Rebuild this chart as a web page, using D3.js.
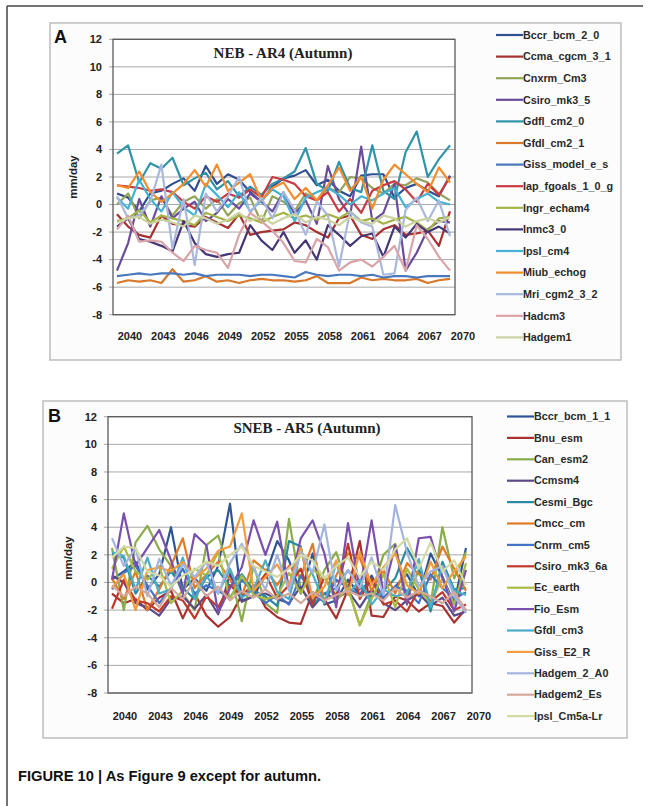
<!DOCTYPE html>
<html>
<head>
<meta charset="utf-8">
<script src="https://cdn.jsdelivr.net/npm/d3@7"></script>
<style>
  html, body { margin: 0; padding: 0; background: #fff; }
  svg { display: block; }
</style>
</head>
<body>
<svg id="fig" width="654" height="806"></svg>
<script>
// ---- categories ----
const years = d3.range(2040, 2071);
const yearLabels = [2040, 2043, 2046, 2049, 2052, 2055, 2058, 2061, 2064, 2067, 2070];
const yTicks = [-8, -6, -4, -2, 0, 2, 4, 6, 8, 10, 12];

// ---- Panel A: NEB - AR4 (Autumn), mm/day ----
const namesA = ["Bccr_bcm_2_0","Ccma_cgcm_3_1","Cnxrm_Cm3","Csiro_mk3_5","Gdfl_cm2_0","Gfdl_cm2_1",
  "Giss_model_e_s","Iap_fgoals_1_0_g","Ingr_echam4","Inmc3_0","Ipsl_cm4","Miub_echog",
  "Mri_cgm2_3_2","Hadcm3","Hadgem1"];
const colorsA = ["#2f4f8f","#a8302e","#93a45a","#6a4c9c","#2f93aa","#d8782c",
  "#4a78bd","#c93a44","#a3b445","#453676","#44b2d2","#f28c2c",
  "#a9b8dc","#d9a3a8","#cbd3a3"];
const bccr_bcm_2_0   = [0.8,0.5,-0.5,0.8,1.0,1.5,1.9,1.0,2.8,1.5,2.2,1.8,0.9,0.2,1.3,1.9,2.1,2.5,1.4,1.8,1.0,0.6,2.1,2.2,2.2,0.5,1.2,1.5,1.0,0.6,2.1];
const ccma_cgcm_3_1  = [-0.7,-1.6,-2.2,-2.4,-0.8,-1.4,-1.5,-1.6,-0.9,-1.3,-1.7,-0.7,-2.2,-2.0,-1.9,-1.8,-1.3,-1.5,-2.0,-2.4,-1.0,-0.8,-2.2,-2.5,-1.8,-1.5,-2.2,-2.1,-1.9,-3.0,-0.5];
const cnxrm_cm3      = [0.0,0.8,-1.0,0.3,0.5,-0.8,0.2,0.6,-0.3,0.4,-0.8,0.1,0.5,-1.3,0.6,0.2,-0.5,0.8,0.3,1.2,0.9,2.0,1.9,1.2,0.8,1.5,1.4,1.9,1.6,0.8,0.3];
const csiro_mk3_5    = [-4.8,-2.8,0.4,-1.6,0.6,-1.0,-0.3,0.2,-1.2,-0.6,0.4,-0.3,0.8,0.2,-0.5,0.9,-0.7,0.3,-1.4,2.8,0.4,-0.8,4.2,-1.2,-0.6,1.5,-4.8,-3.5,-1.8,-1.2,-1.3];
const gdfl_cm2_0     = [3.7,4.3,1.6,3.0,2.6,3.4,1.4,1.9,2.3,1.1,1.7,0.6,1.3,0.7,1.5,1.9,2.4,4.1,1.5,1.0,3.1,1.2,0.9,4.3,1.0,0.4,3.8,5.3,2.0,3.3,4.3];
const gfdl_cm2_1     = [-5.7,-5.5,-5.6,-5.5,-5.7,-4.7,-5.6,-5.5,-5.2,-5.6,-5.5,-5.7,-5.5,-5.4,-5.5,-5.5,-5.6,-5.5,-5.2,-5.7,-5.7,-5.7,-5.3,-5.5,-5.4,-5.5,-5.5,-5.4,-5.7,-5.5,-5.4];
const giss_model_e_s = [-5.2,-5.1,-5.0,-5.1,-5.0,-5.0,-5.1,-5.0,-5.2,-5.1,-5.1,-5.1,-5.2,-5.1,-5.1,-5.2,-5.3,-4.9,-5.1,-5.2,-5.1,-5.1,-5.2,-5.1,-5.3,-5.2,-5.2,-5.3,-5.2,-5.2,-5.2];
const iap_fgoals     = [1.4,1.3,1.2,1.0,1.1,0.9,0.2,-0.3,0.6,0.2,0.8,0.5,1.1,0.5,2.0,1.8,1.5,0.6,0.3,0.9,-0.5,0.4,-0.6,1.0,1.4,1.7,1.1,0.2,1.5,0.7,2.0];
const ingr_echam4    = [-1.2,-1.0,-0.4,-1.3,-0.8,-1.0,-1.2,-1.5,-0.6,-0.9,-1.2,-0.8,-1.0,-1.3,-0.9,-0.6,-1.0,-0.8,-1.1,-0.7,-1.0,-0.5,-1.2,-1.0,-1.4,-1.1,-0.9,-1.3,-1.9,-1.0,-0.9];
const inmc3_0        = [-1.6,-1.0,-2.5,-2.7,-3.0,-3.4,-1.2,-2.8,-3.6,-3.8,-3.6,-3.5,-1.5,-2.6,-3.3,-2.0,-3.5,-2.6,-4.0,-1.5,-2.2,-3.0,-2.3,-2.1,-3.8,-1.6,-2.4,-1.4,-2.0,-1.6,-2.1];
const ipsl_cm4       = [0.5,-0.3,1.8,0.4,-0.5,0.9,-0.2,-0.8,1.5,0.7,-0.2,0.9,-0.5,0.3,1.1,0.6,-1.2,0.5,0.9,1.2,0.7,0.0,0.6,0.3,0.8,1.2,-0.2,0.4,0.8,0.2,0.0];
const miub_echog     = [1.4,1.2,2.4,0.9,0.2,0.8,1.5,2.5,1.3,2.9,1.0,1.6,2.2,0.3,1.2,1.6,0.4,1.2,0.3,1.4,2.7,1.0,2.0,-0.3,1.8,2.9,2.2,1.5,0.9,2.7,1.6];
const mri_cgm2_3_2   = [0.6,-1.0,-0.8,0.2,2.9,-3.2,0.4,-4.4,0.8,-0.5,0.6,2.0,-0.6,0.5,-1.0,0.9,-0.4,-2.2,0.2,-0.8,-4.5,-0.5,-1.3,-1.6,-5.1,-5.0,-0.4,0.5,-1.2,0.3,-2.3];
const hadcm3         = [-1.8,-0.8,-2.7,-2.6,-2.7,-3.5,-4.1,-3.0,-3.3,-3.5,-4.6,-2.2,-0.6,-1.2,-1.9,-2.8,-4.1,-4.2,-2.5,-3.1,-4.8,-4.2,-4.0,-4.5,-3.8,-3.0,-4.8,-1.5,-2.5,-3.8,-4.8];
const hadgem1        = [-1.3,-1.0,-0.9,-1.4,-1.1,-1.3,-1.6,-0.8,-1.0,-1.4,-1.1,-0.6,-1.2,-0.8,-1.4,-1.0,-0.7,-1.3,-0.9,-1.1,-1.5,-0.9,-1.2,-1.4,-0.8,-1.0,-1.6,-1.2,-1.0,-1.3,-0.9];
const valuesA = [bccr_bcm_2_0, ccma_cgcm_3_1, cnxrm_cm3, csiro_mk3_5, gdfl_cm2_0, gfdl_cm2_1,
  giss_model_e_s, iap_fgoals, ingr_echam4, inmc3_0, ipsl_cm4, miub_echog,
  mri_cgm2_3_2, hadcm3, hadgem1];

// ---- Panel B: SNEB - AR5 (Autumn), mm/day ----
const namesB = ["Bccr_bcm_1_1","Bnu_esm","Can_esm2","Ccmsm4","Cesmi_Bgc","Cmcc_cm","Cnrm_cm5",
  "Csiro_mk3_6a","Ec_earth","Fio_Esm","Gfdl_cm3","Giss_E2_R","Hadgem_2_A0","Hadgem2_Es","Ipsl_Cm5a-Lr"];
const colorsB = ["#2f5597","#a8302e","#8aac4a","#5b4a85","#2a8aa0","#e07b28","#4472c4",
  "#c0392b","#a9ba45","#7a4fae","#4bacc6","#f39c3e","#a4b4e0","#d4a89a","#d3daa4"];
const bccr_bcm_1_1 = [0.2,0.8,1.5,-0.5,0.6,4.0,-0.5,0.3,-0.6,1.2,5.7,-1.3,-1.0,0.5,3.0,1.6,-0.8,2.1,-1.6,-1.3,0.2,-0.9,0.5,-1.2,-0.3,0.6,-1.0,2.1,0.4,-1.5,2.5];
const bnu_esm      = [-0.8,-1.5,-1.2,-2.0,-1.1,-0.6,-2.6,-0.8,-2.4,-3.2,-2.5,-0.9,-0.2,-1.8,-2.5,-2.9,-3.0,-0.7,-1.2,-2.6,-0.5,3.0,-2.4,-2.5,-1.0,-1.3,-2.1,-1.5,-1.7,-2.9,-1.9];
const can_esm2     = [2.5,-2.0,2.9,4.1,2.4,1.2,-0.8,-2.0,2.7,3.4,0.8,-2.8,1.2,-1.5,-2.2,4.6,-0.5,-1.4,0.9,2.2,-0.4,-3.1,-0.8,2.0,2.8,-1.2,0.9,-1.6,4.0,0.3,2.2];
const ccmsm4       = [0.5,0.0,-1.5,-1.8,-2.4,-1.2,-1.0,-1.9,-0.9,-2.3,0.6,-1.4,-1.0,-0.8,-1.2,-1.5,-0.3,-1.8,-0.8,-1.2,-0.6,-1.8,-0.5,-1.5,-2.0,-1.3,-0.8,-1.7,-1.1,-2.4,-2.1];
const cesmi_bgc    = [2.1,1.8,-0.8,0.5,-0.3,0.8,-0.4,-1.2,0.4,0.9,-0.3,0.6,-0.6,-1.0,-1.7,3.0,2.6,-1.6,-0.8,-0.4,0.9,-0.3,-1.0,-0.6,0.3,2.5,1.0,-2.1,1.5,-0.5,-0.4];
const cmcc_cm      = [0.3,-1.2,0.8,-2.0,-0.5,1.2,3.2,-0.4,0.6,1.5,0.2,-1.0,1.6,0.9,-0.2,1.2,0.4,2.8,-1.5,0.5,2.1,1.8,-0.6,0.9,-0.8,1.4,0.6,0.2,2.6,1.0,-0.6];
const cnrm_cm5     = [-0.5,0.7,1.2,-0.2,-1.5,-0.4,1.0,-0.8,-0.2,-0.6,-1.1,0.2,-0.7,-1.5,-0.9,-1.6,0.5,-0.9,-1.4,0.2,-0.4,-0.9,0.2,-1.1,-0.3,-0.6,-1.5,0.6,-0.4,-1.2,-0.7];
const csiro_mk3_6a = [-1.9,0.2,-1.3,-1.5,-2.1,-1.0,-1.3,-2.6,-1.0,-1.8,-0.2,-1.0,-0.5,0.6,-1.1,-0.2,1.0,-1.6,0.4,-1.0,2.8,-1.2,0.3,-1.6,-1.3,-2.1,-0.5,-1.4,-0.7,-2.0,-1.6];
const ec_earth     = [1.0,2.6,0.8,0.2,1.2,-1.5,-0.6,1.0,0.5,2.2,-1.2,0.5,-0.9,-1.2,-1.0,0.7,-0.8,0.9,0.4,-1.3,-0.4,-3.1,-1.2,0.6,-1.8,1.0,-0.5,-1.5,0.3,-1.6,1.4];
const fio_esm      = [0.2,5.0,1.2,2.5,3.8,1.6,-0.8,3.5,2.7,-2.2,-0.4,1.1,4.5,2.0,4.4,-0.5,3.2,4.5,2.1,-1.8,4.3,-0.5,4.5,-0.8,2.7,-1.6,3.2,3.3,0.4,-2.1,0.9];
const gfdl_cm3     = [2.2,1.9,-0.5,1.8,-0.8,-0.5,1.8,-1.2,0.5,-0.8,1.0,-1.1,-0.5,1.6,-0.7,-1.2,2.3,0.6,-1.5,1.4,-0.9,0.2,-1.6,-0.5,-1.0,-0.8,1.7,-1.8,1.2,-0.6,-0.9];
const giss_e2_r    = [-0.4,0.6,-2.0,0.9,1.1,0.8,1.5,0.3,1.0,2.3,2.6,5.0,-0.6,0.4,1.3,-0.2,2.5,-1.1,-0.3,1.6,-0.9,2.2,-0.2,1.1,2.1,-0.2,-0.8,1.5,-0.4,0.8,1.9];
const hadgem_2_a0  = [3.2,1.2,2.5,-1.0,1.7,-0.2,1.3,0.4,1.5,-0.8,1.4,2.8,1.0,-0.5,2.0,-0.6,2.2,0.7,4.2,-0.6,0.9,-0.4,1.8,-0.9,5.6,2.2,-0.3,0.8,1.2,-1.0,-2.2];
const hadgem2_es   = [-0.2,-1.0,-0.3,-0.8,-1.8,-0.4,-1.2,0.2,-1.0,-0.3,-1.3,-0.6,-1.1,-0.5,-1.2,-0.8,-1.5,-0.7,-1.3,-0.9,-0.6,-1.0,-0.8,-1.3,-0.4,-1.1,-0.6,-1.0,-1.5,-0.7,-2.0];
const ipsl_cm5a_lr = [1.8,2.6,2.5,0.8,0.5,-0.3,0.5,0.9,1.5,1.2,2.0,2.6,1.2,0.8,0.4,1.0,2.0,1.6,0.3,1.2,1.8,0.4,1.5,0.9,2.4,3.2,1.0,2.9,0.8,1.6,-0.2];
const valuesB = [bccr_bcm_1_1, bnu_esm, can_esm2, ccmsm4, cesmi_bgc, cmcc_cm, cnrm_cm5,
  csiro_mk3_6a, ec_earth, fio_esm, gfdl_cm3, giss_e2_r, hadgem_2_a0, hadgem2_es, ipsl_cm5a_lr];

const svg = d3.select("#fig");
const sans = "'Liberation Sans', Arial, sans-serif";
const serif = "'Liberation Serif', 'Times New Roman', serif";

// figure frame (top and left rules)
svg.append("line").attr("x1", 7).attr("x2", 643).attr("y1", 6).attr("y2", 6)
  .attr("stroke", "#444").attr("stroke-width", 1.5);
svg.append("line").attr("x1", 7).attr("x2", 7).attr("y1", 6).attr("y2", 806)
  .attr("stroke", "#444").attr("stroke-width", 1.5);

function drawPanel(cfg) {
  const g = svg.append("g");
  // panel box
  g.append("rect").attr("x", cfg.box[0]).attr("y", cfg.box[1])
    .attr("width", cfg.box[2] - cfg.box[0]).attr("height", cfg.box[3] - cfg.box[1])
    .attr("fill", "#fcfcfc").attr("stroke", "#bdbdbd").attr("stroke-width", 1.5);

  const x = d3.scalePoint().domain(years).range(cfg.xRange);
  const y = d3.scaleLinear().domain([-8, 12]).range([cfg.plot.y1, cfg.plot.y0]);

  // plot area
  g.append("rect").attr("x", cfg.plot.x0).attr("y", cfg.plot.y0)
    .attr("width", cfg.plot.x1 - cfg.plot.x0).attr("height", cfg.plot.y1 - cfg.plot.y0)
    .attr("fill", "#fff");

  // horizontal gridlines with short outer ticks
  g.append("g").selectAll("line").data(yTicks).join("line")
    .attr("x1", cfg.plot.x0 - 4).attr("x2", cfg.plot.x1)
    .attr("y1", d => y(d)).attr("y2", d => y(d))
    .attr("stroke", "#a8a8a8").attr("stroke-width", 1);

  // y tick labels
  g.append("g").selectAll("text").data(yTicks).join("text")
    .attr("x", cfg.plot.x0 - 11).attr("y", d => y(d)).attr("dy", "0.35em")
    .attr("text-anchor", "end").attr("font-family", sans).attr("font-weight", "bold")
    .attr("font-size", 11).attr("fill", "#222").text(d => d);

  // x labels (every third year)
  g.append("g").selectAll("text").data(yearLabels).join("text")
    .attr("x", d => x(d) + cfg.labelShift).attr("y", cfg.xLabelY).attr("dy", "0.35em")
    .attr("text-anchor", "middle").attr("font-family", sans).attr("font-weight", "bold")
    .attr("font-size", 11).attr("fill", "#222").text(d => d);

  // series lines
  const line = d3.line().x((d, i) => x(years[i])).y(d => y(d));
  g.append("g").selectAll("path").data(cfg.values).join("path")
    .attr("d", d => line(d)).attr("fill", "none")
    .attr("stroke", (d, i) => cfg.colors[i]).attr("stroke-width", 2.2)
    .attr("stroke-linejoin", "round");

  // plot border
  g.append("rect").attr("x", cfg.plot.x0).attr("y", cfg.plot.y0)
    .attr("width", cfg.plot.x1 - cfg.plot.x0).attr("height", cfg.plot.y1 - cfg.plot.y0)
    .attr("fill", "none").attr("stroke", "#5a5a5a").attr("stroke-width", 1.3);

  // title
  g.append("text").attr("x", cfg.titleX).attr("y", cfg.titleY).attr("dy", "0.35em")
    .attr("text-anchor", "middle").attr("font-family", serif).attr("font-weight", "bold")
    .attr("font-size", 15).attr("fill", "#222").text(cfg.title);

  // y axis title
  g.append("text")
    .attr("transform", `translate(${cfg.yTitleX},${cfg.yTitleY}) rotate(-90)`)
    .attr("dy", "0.35em").attr("text-anchor", "middle").attr("font-family", sans)
    .attr("font-weight", "bold").attr("font-size", 11.5).attr("fill", "#222").text("mm/day");

  // panel letter
  g.append("text").attr("x", cfg.letterX).attr("y", cfg.letterY)
    .attr("font-family", sans).attr("font-weight", "bold").attr("font-size", 18)
    .attr("fill", "#111").text(cfg.letter);

  // legend
  const leg = g.append("g").selectAll("g").data(cfg.names).join("g")
    .attr("transform", (d, i) => `translate(${cfg.legendX},${cfg.legendY0 + i * cfg.legendStep})`);
  leg.append("line").attr("x1", 0).attr("x2", 27).attr("y1", 0).attr("y2", 0)
    .attr("stroke", (d, i) => cfg.colors[i]).attr("stroke-width", 2.2);
  leg.append("text").attr("x", 27).attr("y", 0).attr("dy", "0.35em")
    .attr("font-family", sans).attr("font-weight", "bold").attr("font-size", 10.8)
    .attr("fill", "#2a2a2a").text(d => d);
}

drawPanel({
  letter: "A", letterX: 54, letterY: 43,
  box: [50, 23, 621, 360],
  plot: { x0: 113, x1: 455, y0: 39.3, y1: 314.7 },
  xRange: [117, 450], labelShift: 13, xLabelY: 336.5,
  title: "NEB - AR4 (Autumn)", titleX: 283, titleY: 53,
  yTitleX: 73, yTitleY: 177,
  names: namesA, colors: colorsA, values: valuesA,
  legendX: 496, legendY0: 35, legendStep: 21.6
});

drawPanel({
  letter: "B", letterX: 48, letterY: 422,
  box: [43, 401, 627, 738],
  plot: { x0: 108, x1: 472, y0: 416.7, y1: 693 },
  xRange: [112, 466], labelShift: 13, xLabelY: 716,
  title: "SNEB - AR5 (Autumn)", titleX: 307, titleY: 428,
  yTitleX: 68, yTitleY: 558,
  names: namesB, colors: colorsB, values: valuesB,
  legendX: 507, legendY0: 416.5, legendStep: 21.4
});

// caption
svg.append("text").attr("x", 18).attr("y", 781)
  .attr("font-family", sans).attr("font-weight", "bold").attr("font-size", 14.7)
  .attr("fill", "#111").text("FIGURE 10 | As Figure 9 except for autumn.");
</script>
</body>
</html>
